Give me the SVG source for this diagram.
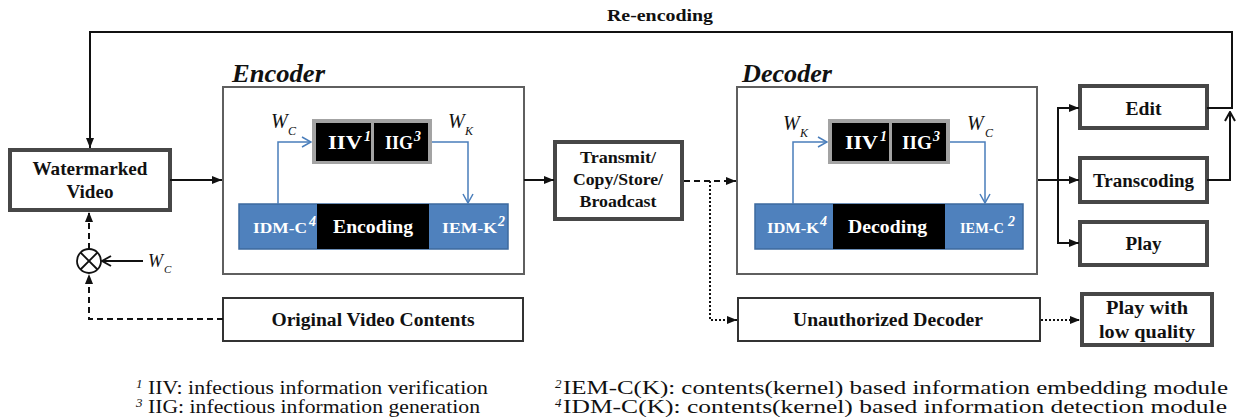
<svg xmlns="http://www.w3.org/2000/svg" width="1237" height="420" viewBox="0 0 1237 420">
<style>
.bg{fill:#ffffff}
text{font-family:"Liberation Serif","DejaVu Serif","Noto Serif",serif}
.lbl{font-weight:bold;fill:#111}
.wlbl{font-weight:bold;fill:#ffffff}
.sup{font-weight:bold;font-style:italic;fill:#ffffff}
.ttl{font-weight:bold;font-style:italic;fill:#111;font-size:26px}
.var{font-style:italic;fill:#111}
.note{fill:#111;font-size:19px}
.nsup{font-style:italic;fill:#111;font-size:13px}
.thick{fill:#fff;stroke:#474747;stroke-width:4}
.thin{fill:#fff;stroke:#333;stroke-width:2}
.frame{fill:#fff;stroke:#5f5f5f;stroke-width:2}
.gray{fill:#a3a3a3}
.blk{fill:#000}
.blue{fill:#4f81bd;stroke:#3d6a9e;stroke-width:1.5}
.ln{fill:none;stroke:#111;stroke-width:2}
.dash{fill:none;stroke:#111;stroke-width:2;stroke-dasharray:6 4}
.dot{fill:none;stroke:#111;stroke-width:2;stroke-dasharray:2 2}
.bln{fill:none;stroke:#4a7ebb;stroke-width:1.5}
</style>
<defs>
<marker id="ah" markerUnits="userSpaceOnUse" markerWidth="10" markerHeight="10" viewBox="0 0 10 10" refX="10" refY="5" orient="auto"><path d="M0,1 L10,5 L0,9 z" fill="#111"/></marker>
<marker id="ob" markerUnits="userSpaceOnUse" markerWidth="12" markerHeight="12" viewBox="0 0 12 12" refX="11" refY="6" orient="auto"><path d="M2,1 L11,6 L2,11" fill="none" stroke="#4a7ebb" stroke-width="1.5"/></marker>
<marker id="ok" markerUnits="userSpaceOnUse" markerWidth="12" markerHeight="12" viewBox="0 0 12 12" refX="11" refY="6" orient="auto"><path d="M2,1 L11,6 L2,11" fill="none" stroke="#111" stroke-width="2"/></marker>
</defs>
<rect class="bg" x="0" y="0" width="1237" height="420"/>

<g id="watermarked-video">
<rect class="thick" x="10" y="150" width="160" height="60"/>
<text class="lbl" x="90" y="175" font-size="19" text-anchor="middle" textLength="115" lengthAdjust="spacingAndGlyphs">Watermarked</text>
<text class="lbl" x="90" y="198" font-size="19" text-anchor="middle" textLength="47" lengthAdjust="spacingAndGlyphs">Video</text>
</g>

<g id="multiplier">
<circle cx="89" cy="261" r="12" fill="#fff" stroke="#111" stroke-width="1.8"/>
<path d="M80.5,252.5 L97.5,269.5 M97.5,252.5 L80.5,269.5" stroke="#111" stroke-width="1.8"/>
<text class="var" x="148" y="267" font-size="18">W</text>
<text class="var" x="164" y="273" font-size="11">C</text>
</g>

<g id="encoder">
<text class="ttl" x="232" y="82" textLength="93" lengthAdjust="spacingAndGlyphs">Encoder</text>
<rect class="frame" x="223" y="87" width="301" height="187"/>
<rect class="gray" x="312" y="119" width="120" height="45"/>
<rect class="blk" x="316" y="123" width="55" height="38"/>
<rect class="blk" x="374" y="123" width="54" height="38"/>
<text class="wlbl" x="328" y="149" font-size="19" textLength="34" lengthAdjust="spacingAndGlyphs">IIV</text>
<text class="sup" x="364" y="141" font-size="14">1</text>
<text class="wlbl" x="385" y="149" font-size="19" textLength="28" lengthAdjust="spacingAndGlyphs">IIG</text>
<text class="sup" x="414" y="141" font-size="14">3</text>
<text class="var" x="271" y="128" font-size="20">W</text>
<text class="var" x="288" y="135" font-size="12">C</text>
<text class="var" x="448" y="128" font-size="20">W</text>
<text class="var" x="465" y="135" font-size="12">K</text>
<rect class="blue" x="239" y="204" width="269" height="45"/>
<rect class="blk" x="317" y="204" width="112" height="45"/>
<text class="wlbl" x="253" y="233" font-size="15" textLength="54" lengthAdjust="spacingAndGlyphs">IDM-C</text>
<text class="sup" x="309" y="226" font-size="14">4</text>
<text class="wlbl" x="333" y="233" font-size="19" textLength="80" lengthAdjust="spacingAndGlyphs">Encoding</text>
<text class="wlbl" x="442" y="233" font-size="15" textLength="55" lengthAdjust="spacingAndGlyphs">IEM-K</text>
<text class="sup" x="498" y="226" font-size="14">2</text>
</g>

<g id="transmit">
<rect class="thick" x="555" y="142" width="127" height="77"/>
<text class="lbl" x="618" y="163" font-size="16" text-anchor="middle" textLength="76" lengthAdjust="spacingAndGlyphs">Transmit/</text>
<text class="lbl" x="618" y="185" font-size="16" text-anchor="middle" textLength="90" lengthAdjust="spacingAndGlyphs">Copy/Store/</text>
<text class="lbl" x="618" y="207" font-size="16" text-anchor="middle" textLength="77" lengthAdjust="spacingAndGlyphs">Broadcast</text>
</g>

<g id="decoder">
<text class="ttl" x="742" y="82" textLength="90" lengthAdjust="spacingAndGlyphs">Decoder</text>
<rect class="frame" x="737" y="87" width="300" height="187"/>
<rect class="gray" x="828" y="119" width="122" height="45"/>
<rect class="blk" x="832" y="123" width="57" height="38"/>
<rect class="blk" x="892" y="123" width="54" height="38"/>
<text class="wlbl" x="845" y="149" font-size="19" textLength="33" lengthAdjust="spacingAndGlyphs">IIV</text>
<text class="sup" x="880" y="141" font-size="14">1</text>
<text class="wlbl" x="902" y="149" font-size="19" textLength="30" lengthAdjust="spacingAndGlyphs">IIG</text>
<text class="sup" x="933" y="141" font-size="14">3</text>
<text class="var" x="783" y="130" font-size="20">W</text>
<text class="var" x="800" y="137" font-size="12">K</text>
<text class="var" x="967" y="130" font-size="20">W</text>
<text class="var" x="985" y="137" font-size="12">C</text>
<rect class="blue" x="755" y="204" width="268" height="45"/>
<rect class="blk" x="833" y="204" width="112" height="45"/>
<text class="wlbl" x="767" y="233" font-size="15" textLength="52" lengthAdjust="spacingAndGlyphs">IDM-K</text>
<text class="sup" x="820" y="226" font-size="14">4</text>
<text class="wlbl" x="848" y="233" font-size="19" textLength="79" lengthAdjust="spacingAndGlyphs">Decoding</text>
<text class="wlbl" x="960" y="233" font-size="15" textLength="44" lengthAdjust="spacingAndGlyphs">IEM-C</text>
<text class="sup" x="1008" y="226" font-size="14">2</text>
</g>

<g id="edit">
<rect class="thick" x="1080" y="86" width="127" height="42"/>
<text class="lbl" x="1143.5" y="115" font-size="18" text-anchor="middle" textLength="36" lengthAdjust="spacingAndGlyphs">Edit</text>
</g>
<g id="transcoding">
<rect class="thick" x="1080" y="158" width="127" height="44"/>
<text class="lbl" x="1143.5" y="187" font-size="18" text-anchor="middle" textLength="101" lengthAdjust="spacingAndGlyphs">Transcoding</text>
</g>
<g id="play">
<rect class="thick" x="1080" y="222" width="127" height="43"/>
<text class="lbl" x="1143.5" y="250" font-size="18" text-anchor="middle" textLength="36" lengthAdjust="spacingAndGlyphs">Play</text>
</g>

<g id="original-video-contents">
<rect class="thin" x="223" y="298" width="300" height="43"/>
<text class="lbl" x="373" y="326" font-size="18" text-anchor="middle" textLength="203" lengthAdjust="spacingAndGlyphs">Original Video Contents</text>
</g>

<g id="unauthorized-decoder">
<rect class="thin" x="738" y="298" width="302" height="43"/>
<text class="lbl" x="888" y="326" font-size="18" text-anchor="middle" textLength="190" lengthAdjust="spacingAndGlyphs">Unauthorized Decoder</text>
</g>

<g id="play-low-quality">
<rect class="thick" x="1082" y="294" width="130" height="51"/>
<text class="lbl" x="1147" y="314" font-size="18" text-anchor="middle" textLength="82" lengthAdjust="spacingAndGlyphs">Play with</text>
<text class="lbl" x="1147" y="338" font-size="18" text-anchor="middle" textLength="96" lengthAdjust="spacingAndGlyphs">low quality</text>
</g>

<g id="footnotes">
<text class="nsup" x="136" y="388">1</text>
<text class="note" x="148" y="394" textLength="340" lengthAdjust="spacingAndGlyphs">IIV: infectious information verification</text>
<text class="nsup" x="136" y="407">3</text>
<text class="note" x="148" y="413" textLength="332" lengthAdjust="spacingAndGlyphs">IIG: infectious information generation</text>
<text class="nsup" x="555" y="388">2</text>
<text class="note" x="563" y="394" textLength="665" lengthAdjust="spacingAndGlyphs">IEM-C(K): contents(kernel) based information embedding module</text>
<text class="nsup" x="555" y="407">4</text>
<text class="note" x="563" y="413" textLength="664" lengthAdjust="spacingAndGlyphs">IDM-C(K): contents(kernel) based information detection module</text>
</g>

<g id="connectors">
<path class="ln" d="M1207,108 L1232,108 L1232,32 L90,32 L90,148" marker-end="url(#ah)"/>
<path class="ln" d="M1207,180 L1230,180 L1230,112" marker-end="url(#ok)"/>
<path class="ln" d="M170,180 L222,180" marker-end="url(#ah)"/>
<path class="ln" d="M524,180 L554,180" marker-end="url(#ah)"/>
<path class="dash" d="M684,181 L736,181" marker-end="url(#ah)"/>
<path class="dot" d="M710,181 L710,320 L737,320" marker-end="url(#ah)"/>
<path class="dot" d="M1041,320 L1080,320" marker-end="url(#ah)"/>
<path class="ln" d="M1038,180 L1079,180" marker-end="url(#ah)"/>
<path class="ln" d="M1079,108 L1058,108 L1058,243 L1079,243"/>
<path class="ln" d="M1060,108 L1079,108" marker-end="url(#ah)"/>
<path class="ln" d="M1060,243 L1079,243" marker-end="url(#ah)"/>
<path class="dash" d="M89,249 L89,212" marker-end="url(#ah)"/>
<path class="dash" d="M223,319 L89,319 L89,274" marker-end="url(#ah)"/>
<path class="ln" d="M143,261 L102,261" marker-end="url(#ok)"/>
<path class="bln" d="M278,204 L278,142 L311,142" marker-end="url(#ob)"/>
<path class="bln" d="M432,142 L468,142 L468,203" marker-end="url(#ob)"/>
<path class="bln" d="M793,204 L793,142 L827,142" marker-end="url(#ob)"/>
<path class="bln" d="M950,142 L985,142 L985,203" marker-end="url(#ob)"/>
<text class="lbl" x="660" y="21" font-size="17" text-anchor="middle" textLength="106" lengthAdjust="spacingAndGlyphs">Re-encoding</text>
</g>
</svg>
